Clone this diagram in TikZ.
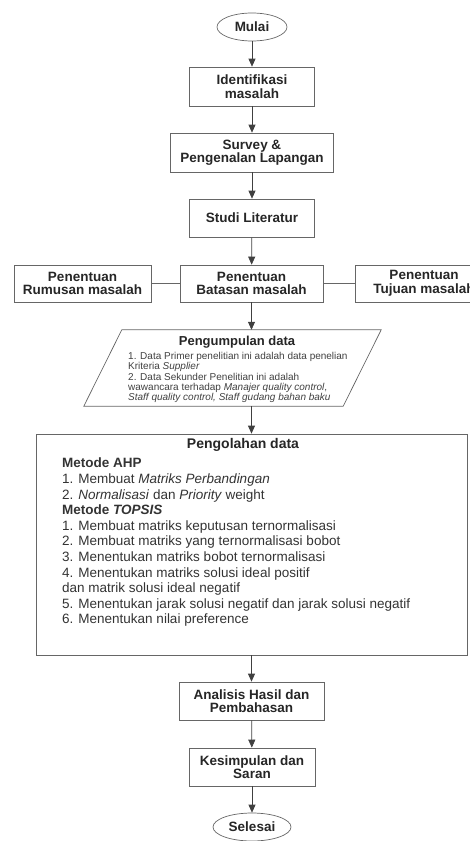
\documentclass[tikz,border=0pt]{standalone}
\usepackage{fontspec}
\setmainfont{Liberation Sans}
\usetikzlibrary{arrows.meta,shapes.geometric,positioning}

\begin{document}
\begin{tikzpicture}[x=1pt,y=-1pt,
   box/.style={draw=black!60,line width=0.7pt,rectangle,inner sep=1pt,align=center,text=black!85,
     font=\fontsize{13.5}{13.5}\selectfont\bfseries},
   term/.style={box,ellipse,inner sep=0pt},
   flow/.style={draw=black!75,line width=0.7pt,-{Triangle[width=7pt,length=8pt]}},
   link/.style={draw=black!60,line width=0.7pt},
   small/.style={font=\fontsize{10}{10.3}\selectfont,text=black!75,align=left,inner sep=0pt},
   body/.style={font=\fontsize{13.5}{15.6}\selectfont,text=black!80,align=left,inner sep=0pt}
  ]
\useasboundingbox (0,0) rectangle (469,841);

% main column
\node[term,minimum width=70pt,minimum height=28pt] (mulai) at (252,27) {Mulai};
\node[box,minimum width=125pt,minimum height=39pt] (identifikasi) at (252,86.5) {Identifikasi\\masalah};
\node[box,minimum width=163pt,minimum height=39pt] (survey) at (252,152.5) {Survey \&\\Pengenalan Lapangan};
\node[box,minimum width=125pt,minimum height=38pt] (studi) at (252,218) {Studi Literatur};

% batasan row
\node[box,minimum width=143pt,minimum height=37pt] (batasan) at (251.5,283.5) {Penentuan\\Batasan masalah};
\node[box,minimum width=137pt,minimum height=37pt] (rumusan) at (82.5,283.5) {Penentuan\\Rumusan masalah};
\node[box,minimum width=137pt,minimum height=37pt] (tujuan) at (424,283.5) {Penentuan\\Tujuan masalah};

% pengumpulan data
\node[minimum width=297pt,minimum height=76pt,inner sep=0pt] (pengumpulan) at (232.5,368) {};
\draw[link] ([xshift=38pt]pengumpulan.north west) -- (pengumpulan.north east)
   -- ([xshift=-38pt]pengumpulan.south east) -- (pengumpulan.south west) -- cycle;
\node[font=\fontsize{13}{13}\selectfont\bfseries,text=black!85] (pengumpulanTitle) at (237,342) {Pengumpulan data};
\node[small,anchor=north west] (pengumpulanText) at (128,352) {1. Data Primer penelitian ini adalah data penelian\\
  Kriteria \textit{Supplier}\\
  2. Data Sekunder Penelitian ini adalah\\
  wawancara terhadap \textit{Manajer quality control},\\
  \textit{Staff quality control, Staff gudang bahan baku}};

% pengolahan data
\node[draw=black!60,line width=0.7pt,minimum width=431pt,minimum height=221pt] (pengolahan) at (251.5,544.5) {};
\node[font=\fontsize{14}{14}\selectfont\bfseries,text=black!85] (pengolahanTitle) at (243,445) {Pengolahan data};
\node[body,anchor=north west] (pengolahanText) at (62,458) {\textbf{Metode AHP}\\
  1. Membuat \textit{Matriks Perbandingan}\\
  2. \textit{Normalisasi} dan \textit{Priority} weight\\
  \textbf{Metode \textit{TOPSIS}}\\
  1. Membuat matriks keputusan ternormalisasi\\
  2. Membuat matriks yang ternormalisasi bobot\\
  3. Menentukan matriks bobot ternormalisasi\\
  4. Menentukan matriks solusi ideal positif\\
  dan matrik solusi ideal negatif\\
  5. Menentukan jarak solusi negatif dan jarak solusi negatif\\
  6. Menentukan nilai preference};

% akhir
\node[box,minimum width=145pt,minimum height=38pt] (analisis) at (251.5,701) {Analisis Hasil dan\\Pembahasan};
\node[box,minimum width=126pt,minimum height=38pt] (kesimpulan) at (252,767) {Kesimpulan dan\\Saran};
\node[term,minimum width=78pt,minimum height=28pt] (selesai) at (252,827) {Selesai};

% connectors
\draw[flow] (mulai) -- (identifikasi);
\draw[flow] (identifikasi) -- (survey);
\draw[flow] (survey) -- (studi);
\draw[flow] (studi) -- (batasan);
\draw[link] (rumusan) -- (batasan);
\draw[link] (batasan) -- (tujuan);
\draw[flow] (batasan) -- (batasan.south |- pengumpulan.north);
\draw[flow] (batasan.south |- pengumpulan.south) -- (pengolahan);
\draw[flow] (pengolahan) -- (analisis);
\draw[flow] (analisis) -- (kesimpulan);
\draw[flow] (kesimpulan) -- (selesai);

\end{tikzpicture}
\end{document}
